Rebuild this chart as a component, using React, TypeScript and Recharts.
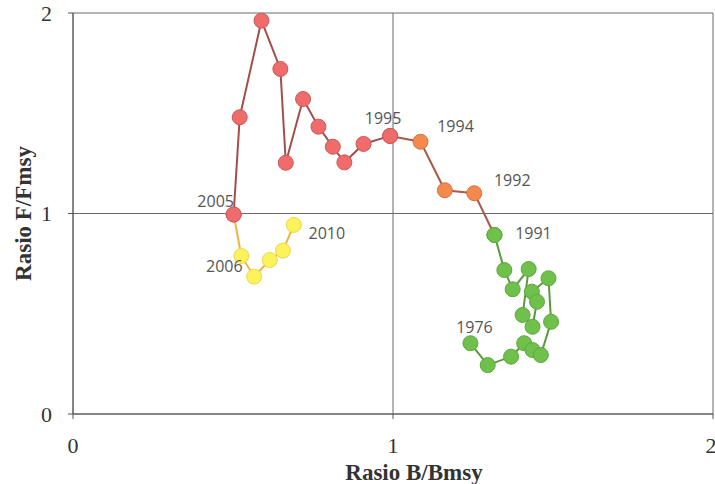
import React from 'react';
import { ScatterChart, Scatter, XAxis, YAxis, CartesianGrid } from 'recharts';

const years = [
  1976, 1977, 1978, 1979, 1980, 1981, 1982, 1983, 1984, 1985, 1986, 1987,
  1988, 1989, 1990, 1991, 1992, 1993, 1994, 1995, 1996, 1997, 1998, 1999,
  2000, 2001, 2002, 2003, 2004, 2005, 2006, 2007, 2008, 2009, 2010,
];
const bRatio = [
  1.242, 1.296, 1.369, 1.41, 1.436, 1.462, 1.494, 1.486, 1.434, 1.45, 1.436, 1.405,
  1.424, 1.374, 1.348, 1.317, 1.254, 1.162, 1.086, 0.991, 0.908, 0.848, 0.812, 0.767,
  0.719, 0.665, 0.648, 0.589, 0.521, 0.502, 0.526, 0.566, 0.615, 0.656, 0.69,
];
const fRatio = [
  0.353, 0.244, 0.286, 0.353, 0.319, 0.294, 0.46, 0.677, 0.61, 0.56, 0.435, 0.494,
  0.723, 0.622, 0.718, 0.893, 1.101, 1.116, 1.358, 1.387, 1.347, 1.255, 1.333, 1.433,
  1.571, 1.253, 1.721, 1.962, 1.48, 0.995, 0.788, 0.685, 0.768, 0.815, 0.943,
];
const labeledYears = [1976, 1991, 1992, 1994, 1995, 2005, 2006, 2010];
const axisTicks = [0, 1, 2];

// layout / style config
const labelOffsets: Record<number, [number, number]> = {
  1976: [4, -16],
  1991: [39, -2],
  1992: [38, -13],
  1994: [35, -16],
  1995: [-7, -18],
  2005: [-18, -14],
  2006: [-17, 10],
  2010: [33, 8],
};

const DOT: Record<string, { fill: string; stroke: string; line: string }> = {
  green: { fill: '#70c04c', stroke: '#5ca83e', line: '#5a9a3c' },
  orange: { fill: '#f4894e', stroke: '#d87040', line: '#a85a48' },
  red: { fill: '#f06c6c', stroke: '#cc5858', line: '#a44e4a' },
  yellow: { fill: '#fbf25c', stroke: '#ead84a', line: '#f2b440' },
};

const groupOf = (y: number) => (y <= 1991 ? 'green' : y <= 1994 ? 'orange' : y <= 2005 ? 'red' : 'yellow');

const allPoints = years.map((year, i) => ({ year, b: bRatio[i], f: fRatio[i] }));

const seriesDefs = [
  { key: 'yellow', from: 2005, to: 2010 },
  { key: 'green', from: 1976, to: 1991 },
  { key: 'orange', from: 1991, to: 1995 },
  { key: 'red', from: 1995, to: 2005 },
];

const makeShape = (owner: string) => (props: any) => {
  const { cx, cy, payload } = props;
  const g = groupOf(payload.year);
  const c = DOT[g];
  const off = labelOffsets[payload.year];
  const showLabel = off && g === owner && labeledYears.includes(payload.year);
  return (
    <g>
      <circle cx={cx} cy={cy} r={7.5} fill={c.fill} stroke={c.stroke} strokeWidth={1} />
      {showLabel ? (
        <text
          x={cx + off[0]}
          y={cy + off[1]}
          textAnchor="middle"
          dominantBaseline="central"
          fontFamily="Open Sans"
          fontSize={16}
          fill="#555"
        >
          {payload.year}
        </text>
      ) : null}
    </g>
  );
};

const XTick = (props: any) => (
  <text x={props.x} y={props.y} dy={32} textAnchor="middle" fontFamily="Liberation Serif" fontSize={22} fill="#333">
    {props.payload.value}
  </text>
);

const YTick = (props: any) => (
  <text x={props.x} y={props.y} dx={-14} dy={7.5} textAnchor="end" fontFamily="Liberation Serif" fontSize={22} fill="#333">
    {props.payload.value}
  </text>
);

const XLabel = (props: any) => {
  const vb = props.viewBox;
  return (
    <text
      x={vb.x + vb.width / 2 + 21}
      y={480}
      textAnchor="middle"
      fontFamily="Liberation Serif"
      fontWeight="bold"
      fontSize={23}
      fill="#333"
    >
      Rasio B/Bmsy
    </text>
  );
};

const YLabel = (props: any) => {
  const vb = props.viewBox;
  const cx = 23;
  const cy = vb.y + vb.height / 2;
  return (
    <text
      x={cx}
      y={cy}
      transform={`rotate(-90, ${cx}, ${cy})`}
      textAnchor="middle"
      dominantBaseline="central"
      fontFamily="Liberation Serif"
      fontWeight="bold"
      fontSize={23}
      fill="#333"
    >
      Rasio F/Fmsy
    </text>
  );
};

export default function App() {
  return (
    <div style={{ position: 'absolute', left: 0, top: 0, width: 715, height: 484, background: '#fff' }}>
      <ScatterChart width={715} height={484} margin={{ top: 13, right: 2, bottom: 0, left: 0 }}>
        <CartesianGrid stroke="#6a6a6a" strokeWidth={1} />
        <XAxis
          type="number"
          dataKey="b"
          domain={[0, 2]}
          ticks={axisTicks}
          allowDataOverflow
          height={70}
          tickSize={5}
          stroke="#555"
          tick={XTick}
          label={{ content: XLabel }}
        />
        <YAxis
          type="number"
          dataKey="f"
          domain={[0, 2]}
          ticks={axisTicks}
          allowDataOverflow
          width={73}
          tickSize={5}
          stroke="#555"
          tick={YTick}
          label={{ content: YLabel }}
        />
        {seriesDefs.map((s) => (
          <Scatter
            key={s.key}
            data={allPoints.filter((p) => p.year >= s.from && p.year <= s.to)}
            line={{ stroke: DOT[s.key].line, strokeWidth: 2 }}
            lineType="joint"
            shape={makeShape(s.key)}
            isAnimationActive={false}
          />
        ))}
      </ScatterChart>
    </div>
  );
}
